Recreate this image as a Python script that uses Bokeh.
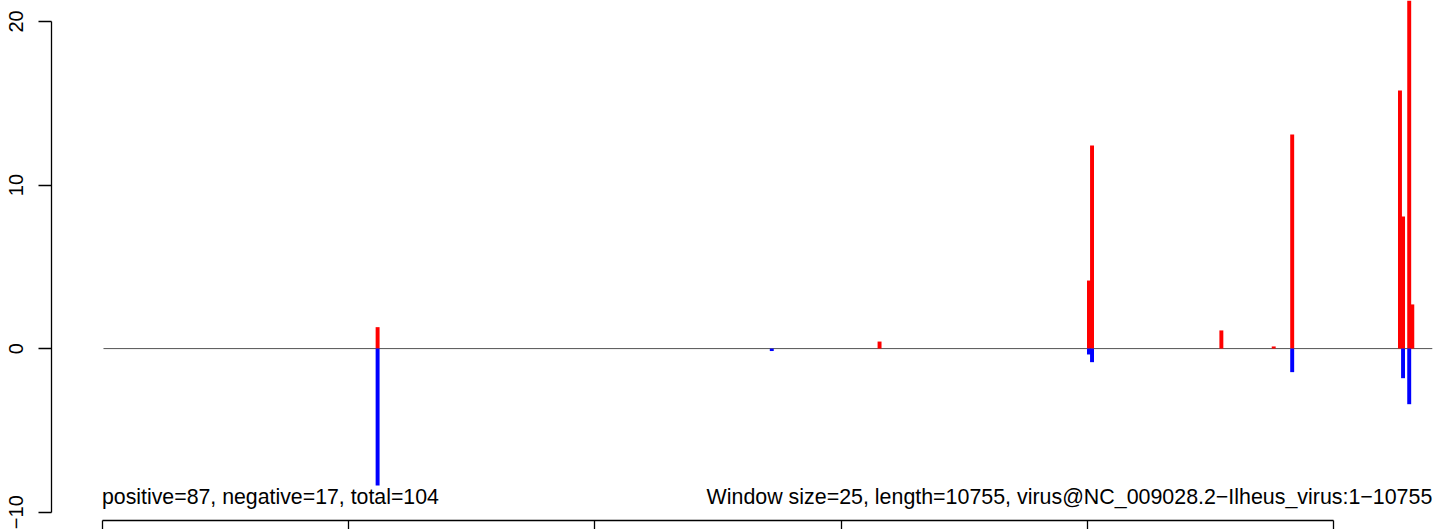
from bokeh.plotting import figure
from bokeh.models import Range1d, FixedTicker, ColumnDataSource, LinearAxis
from bokeh.core.properties import value
from bokeh.embed import file_html
from bokeh.resources import INLINE

# window centres (bp) and scores
pos_x = [2237.5, 6312.5, 8012.5, 8037.5, 9087.5, 9512.5, 9662.5, 10537.5, 10562.5, 10612.5, 10637.5]
pos_y = [1.31, 0.43, 4.16, 12.42, 1.11, 0.13, 13.09, 15.78, 8.08, 22.5, 2.70]
neg_x = [2237.5, 5437.5, 8012.5, 8037.5, 9662.5, 10562.5, 10612.5]
neg_y = [-8.37, -0.15, -0.36, -0.83, -1.44, -1.81, -3.40]

x_ticks = [0, 2000, 4000, 6000, 8000, 10000]
y_ticks = [-10, 0, 10, 20]
y_tick_labels = {-10: "\u221210", 0: "0", 10: "10", 20: "20"}

zero_line_x = [12, 10800]
left_note = "positive=87, negative=17, total=104"
right_note = "Window size=25, length=10755, virus@NC_009028.2\u2212Ilheus_virus:1\u221210755"
note_y = -9.1

FONT = "Liberation Sans"

p = figure(width=1444, height=529, output_backend="svg", toolbar_location=None,
           x_range=Range1d(-410, 10899), y_range=Range1d(-10.51, 21.28),
           min_border_left=51, min_border_right=0, min_border_top=0, min_border_bottom=9,
           x_axis_location=None, y_axis_location=None)
p.outline_line_color = None
p.xgrid.visible = False
p.ygrid.visible = False
p.background_fill_color = "white"
p.border_fill_color = "white"

yax = LinearAxis(ticker=FixedTicker(ticks=y_ticks), bounds=(-10, 20))
yax.major_label_overrides = y_tick_labels
yax.major_label_orientation = "parallel"
yax.major_tick_out = 13
yax.major_tick_in = 0
yax.minor_tick_out = 0
yax.minor_tick_in = 0
yax.major_label_standoff = 15
yax.major_label_text_font = FONT
yax.major_label_text_font_size = "20px"
yax.major_label_text_color = "black"
yax.axis_line_color = "black"
yax.axis_line_width = 1.3
yax.major_tick_line_color = "black"
yax.major_tick_line_width = 1.3
p.add_layout(yax, "left")

xax = LinearAxis(ticker=FixedTicker(ticks=x_ticks), bounds=(0, 10000))
xax.major_label_overrides = {t: "" for t in x_ticks}
xax.major_tick_out = 9
xax.major_tick_in = 0
xax.minor_tick_out = 0
xax.minor_tick_in = 0
xax.major_label_standoff = 0
xax.major_label_text_font_size = "1px"
xax.axis_line_color = "black"
xax.axis_line_width = 1.3
xax.major_tick_line_color = "black"
xax.major_tick_line_width = 1.3
p.add_layout(xax, "below")

p.line(zero_line_x, [0, 0], line_color="#555555", line_width=1)

src_pos = ColumnDataSource(dict(x=pos_x, top=pos_y))
src_neg = ColumnDataSource(dict(x=neg_x, top=neg_y))
p.vbar(x="x", top="top", bottom=0, width=32, source=src_pos,
       fill_color="#FF0000", line_color=None)
p.vbar(x="x", top="top", bottom=0, width=32, source=src_neg,
       fill_color="#0000FF", line_color=None)

p.text(x=[0], y=[note_y], text=[left_note], text_font=value(FONT),
       text_font_size="21.3px", text_align="left", text_baseline="alphabetic",
       text_color="black")
p.text(x=[zero_line_x[1]], y=[note_y], text=[right_note], text_font=value(FONT),
       text_font_size="21.4px", text_align="right", text_baseline="alphabetic",
       text_color="black")

open("out.html", "w").write(file_html(p, INLINE))
